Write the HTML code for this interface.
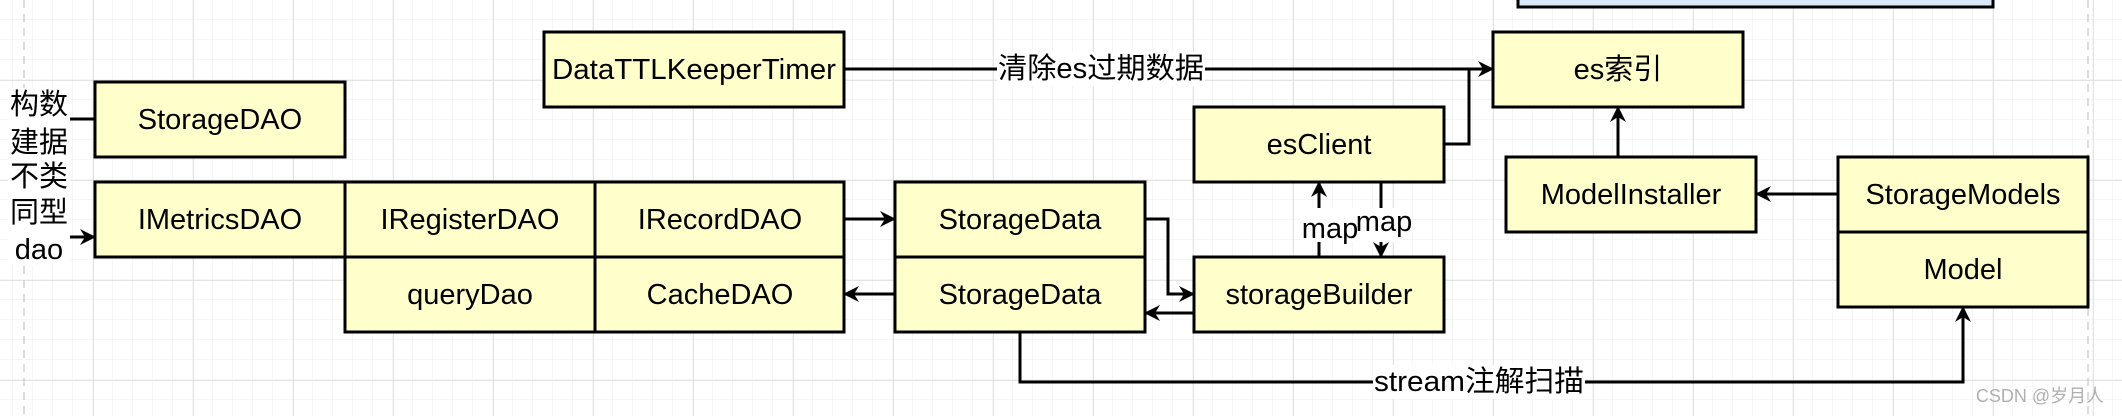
<!DOCTYPE html>
<html><head><meta charset="utf-8"><style>
html,body{margin:0;padding:0;background:#fff}
svg{display:block}
text{font-family:"Liberation Sans","Noto Sans CJK SC",sans-serif;fill:#000}
</style></head><body>
<svg width="2122" height="416" viewBox="0 0 2122 416" xmlns="http://www.w3.org/2000/svg">
<defs>
<pattern id="g1" width="20" height="20" patternUnits="userSpaceOnUse" x="13" y="0"><path d="M20 0V20M0 20H20" stroke="#eeeeee" stroke-width="1" fill="none"/></pattern>
<pattern id="g2" width="100" height="100" patternUnits="userSpaceOnUse" x="93" y="80"><path d="M0 0V100M0 0H100" stroke="#dcdcdc" stroke-width="1.5" fill="none"/></pattern>
<marker id="a" markerWidth="18" markerHeight="18" refX="15" refY="9" orient="auto" markerUnits="userSpaceOnUse"><path d="M0 1L16 9L0 17L5 9Z" fill="#000"/></marker>
</defs>
<rect width="2122" height="416" fill="url(#g1)"/>
<rect width="2122" height="416" fill="url(#g2)"/>
<line x1="24" y1="0" x2="24" y2="416" stroke="#bbb" stroke-dasharray="8,6"/>
<line x1="2088" y1="0" x2="2088" y2="416" stroke="#bbb" stroke-dasharray="8,6"/>
<g fill="#ffffcc" stroke="#000" stroke-width="3">
<rect x="1518" y="-5" width="475" height="12" fill="#dae8fc"/>
<rect x="95" y="82" width="250" height="75"/>
<rect x="544" y="32" width="300" height="75"/>
<rect x="95" y="182" width="250" height="75"/>
<rect x="345" y="182" width="250" height="75"/>
<rect x="595" y="182" width="249" height="75"/>
<rect x="345" y="257" width="250" height="75"/>
<rect x="595" y="257" width="249" height="75"/>
<rect x="895" y="182" width="250" height="75"/>
<rect x="895" y="257" width="250" height="75"/>
<rect x="1493" y="32" width="250" height="75"/>
<rect x="1194" y="107" width="250" height="75"/>
<rect x="1194" y="257" width="250" height="75"/>
<rect x="1506" y="157" width="250" height="75"/>
<rect x="1838" y="157" width="250" height="75"/>
<rect x="1838" y="232" width="250" height="75"/>
</g>
<g stroke="#000" stroke-width="3" fill="none">
<path d="M844 69H1493" marker-end="url(#a)"/>
<path d="M1444 144H1469V69"/>
<path d="M1618 157V107" marker-end="url(#a)"/>
<path d="M1838 194H1756" marker-end="url(#a)"/>
<path d="M844 219H895" marker-end="url(#a)"/>
<path d="M895 294H844" marker-end="url(#a)"/>
<path d="M1145 219H1168V294H1194" marker-end="url(#a)"/>
<path d="M1194 313H1145" marker-end="url(#a)"/>
<path d="M1319 257V182" marker-end="url(#a)"/>
<path d="M1381 182V257" marker-end="url(#a)"/>
<path d="M1020 332V382H1963V307" marker-end="url(#a)"/>
<path d="M68 119H95"/>
<path d="M68 237H95" marker-end="url(#a)"/>
</g>
<g font-size="29" text-anchor="middle" dominant-baseline="central">
<text x="220" y="120">StorageDAO</text>
<text x="694" y="70" textLength="284" lengthAdjust="spacingAndGlyphs">DataTTLKeeperTimer</text>
<text x="220" y="220">IMetricsDAO</text>
<text x="470" y="220">IRegisterDAO</text>
<text x="720" y="220">IRecordDAO</text>
<text x="470" y="295">queryDao</text>
<text x="720" y="295">CacheDAO</text>
<text x="1020" y="220">StorageData</text>
<text x="1020" y="295">StorageData</text>
<text x="1618" y="70">es索引</text>
<text x="1319" y="145">esClient</text>
<text x="1319" y="295">storageBuilder</text>
<text x="1631" y="195">ModelInstaller</text>
<text x="1963" y="195">StorageModels</text>
<text x="1963" y="270">Model</text>
</g>
<g font-size="29" text-anchor="middle" dominant-baseline="central">
<rect x="997" y="52" width="208" height="34" fill="#fff"/>
<text x="1101" y="69" textLength="206" lengthAdjust="spacingAndGlyphs">清除es过期数据</text>
<rect x="1300" y="208" width="102" height="34" fill="#fff"/>
<text x="1330" y="229">map</text><text x="1384" y="222">map</text>
<rect x="1373" y="365" width="212" height="34" fill="#fff"/>
<text x="1479" y="382" textLength="210" lengthAdjust="spacingAndGlyphs">stream注解扫描</text>
<rect x="8" y="88" width="62" height="178" fill="#fff"/>
<text x="39" y="105">构数</text>
<text x="39" y="143">建据</text>
<text x="39" y="177">不类</text>
<text x="39" y="213">同型</text>
<text x="39" y="250">dao</text>
</g>
<text x="2040" y="402" font-size="18" style="fill:#b0b0b0" text-anchor="middle">CSDN @岁月人</text>
</svg>
</body></html>
